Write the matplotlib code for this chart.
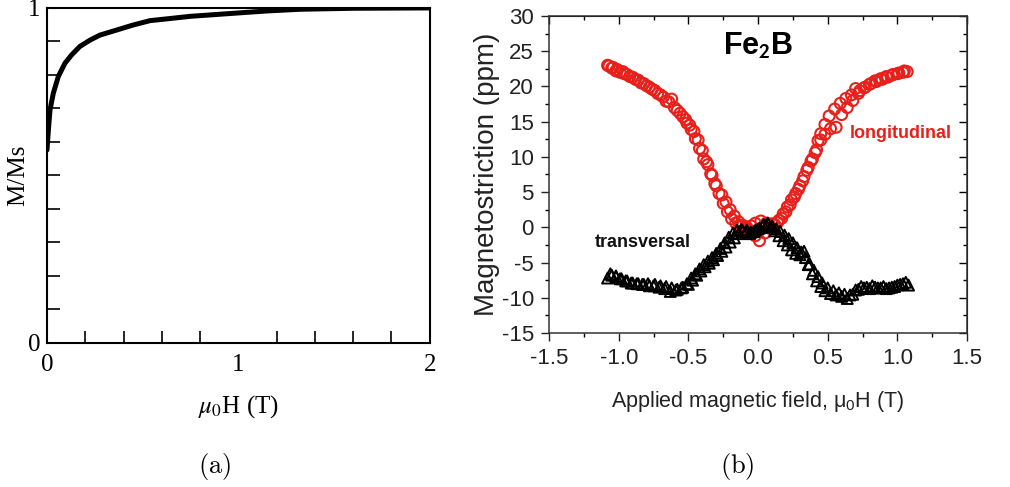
import matplotlib
matplotlib.use("Agg")
import matplotlib.pyplot as plt
from matplotlib.ticker import MultipleLocator, FixedLocator, NullFormatter, FormatStrFormatter

plt.rcParams["axes.unicode_minus"] = False

# (a) magnetisation curve
field_a = [0.0, 0.008, 0.016, 0.033, 0.059, 0.094, 0.129, 0.172, 0.225, 0.277,
           0.364, 0.45, 0.538, 0.75, 0.973, 1.15, 1.32, 1.6, 2.0]
m_ms = [0.576, 0.64, 0.696, 0.745, 0.795, 0.835, 0.860, 0.885, 0.904, 0.919,
        0.934, 0.949, 0.962, 0.975, 0.984, 0.991, 0.996, 0.999, 1.0]

# (b) Fe2B magnetostriction, two field sweeps each
lon_x = [-1.08, -1.05, -1.02, -0.99, -0.96, -0.92, -0.88, -0.84, -0.80, -0.76,
         -0.72, -0.68, -0.64, -0.60, -0.56, -0.52, -0.49, -0.46, -0.43, -0.40,
         -0.37, -0.34, -0.31, -0.28, -0.25, -0.22, -0.19, -0.16, -0.13, -0.10,
         -0.06, -0.02, 0.01, 0.05, 0.09, 0.12, 0.15, 0.18, 0.21, 0.24,
         0.27, 0.30, 0.33, 0.36, 0.39, 0.42, 0.45, 0.48, 0.52, 0.56,
         0.60, 0.64, 0.68, 0.72, 0.76, 0.80, 0.84, 0.88, 0.92, 0.96,
         1.00, 1.04, 1.07,
         1.05, 1.01, 0.97, 0.93, 0.89, 0.85, 0.81, 0.77, 0.73, 0.70,
         0.67, 0.63, 0.59, 0.55, 0.51, 0.48, 0.45, 0.43, 0.41, 0.38,
         0.35, 0.32, 0.29, 0.26, 0.23, 0.20, 0.17, 0.14, 0.10, 0.06,
         0.02, -0.02, -0.05, -0.08, -0.11, -0.14, -0.17, -0.20, -0.23, -0.26,
         -0.30, -0.33, -0.36, -0.39, -0.42, -0.45, -0.48, -0.51, -0.54, -0.58,
         -0.62, -0.66, -0.70, -0.74, -0.78, -0.82, -0.86, -0.90, -0.94, -0.97,
         -1.01, -1.04, -1.07]
lon_y = [23.0, 22.6, 22.2, 22.0, 21.8, 21.4, 21.0, 20.5, 20.1, 19.6,
         19.0, 18.5, 17.8, 17.0, 16.2, 15.3, 14.5, 13.6, 12.4, 10.9,
         9.3, 7.6, 6.2, 4.8, 3.4, 2.2, 1.2, 0.6, 0.1, -0.3,
         -0.6, -1.2, -1.9, -0.8, -0.2, 0.4, 1.0, 1.9, 2.9, 3.9,
         4.8, 5.9, 7.2, 8.5, 9.7, 11.0, 12.4, 13.2, 14.0, 14.2,
         16.0, 17.0, 18.0, 19.0, 19.8, 20.3, 20.8, 21.1, 21.4, 21.6,
         21.8, 22.0, 22.1,
         22.2, 21.9, 21.7, 21.3, 21.0, 20.7, 20.4, 19.9, 19.4, 19.7,
         18.8, 18.3, 17.6, 16.8, 15.8, 14.6, 13.3, 12.3, 10.6, 9.4,
         8.1, 6.6, 5.4, 4.3, 3.2, 2.2, 1.3, 0.7, 0.5, 0.6,
         0.9, 0.6, 0.2, 0.0, 0.3, 0.8, 1.6, 2.5, 3.6, 4.6,
         5.9, 7.4, 8.9, 9.7, 11.2, 12.6, 13.9, 14.8, 15.7, 16.6,
         18.2, 17.9, 18.8, 19.4, 19.9, 20.4, 20.9, 21.3, 21.7, 22.1,
         22.4, 22.7, 22.9]

tra_x = [-1.08, -1.05, -1.02, -0.99, -0.95, -0.91, -0.87, -0.83, -0.79, -0.75,
         -0.71, -0.67, -0.63, -0.59, -0.55, -0.51, -0.48, -0.45, -0.42, -0.39,
         -0.36, -0.33, -0.30, -0.27, -0.24, -0.21, -0.18, -0.15, -0.12, -0.09,
         -0.06, -0.03, 0.00, 0.03, 0.06, 0.09, 0.12, 0.15, 0.18, 0.21,
         0.24, 0.27, 0.30, 0.33, 0.36, 0.39, 0.42, 0.45, 0.48, 0.52,
         0.56, 0.60, 0.64, 0.68, 0.72, 0.76, 0.80, 0.84, 0.88, 0.92,
         0.96, 1.00, 1.04, 1.08,
         1.06, 1.02, 0.98, 0.94, 0.90, 0.86, 0.82, 0.78, 0.74, 0.70,
         0.66, 0.62, 0.58, 0.54, 0.50, 0.46, 0.43, 0.40, 0.37, 0.34,
         0.31, 0.28, 0.25, 0.22, 0.19, 0.16, 0.13, 0.10, 0.07, 0.04,
         0.01, -0.02, -0.05, -0.08, -0.11, -0.14, -0.17, -0.20, -0.23, -0.26,
         -0.29, -0.32, -0.35, -0.38, -0.41, -0.44, -0.47, -0.50, -0.54, -0.58,
         -0.62, -0.66, -0.70, -0.74, -0.78, -0.82, -0.86, -0.90, -0.94, -0.98,
         -1.02, -1.06]
tra_y = [-7.2, -6.8, -6.9, -7.3, -7.6, -7.9, -8.0, -8.1, -8.0, -8.3,
         -8.5, -8.7, -9.1, -8.9, -8.6, -8.0, -7.2, -6.6, -5.9, -5.3,
         -4.8, -4.3, -3.7, -3.0, -2.2, -1.4, -0.8, -0.4, -0.3, -0.7,
         -0.9, -0.6, -0.2, 0.1, 0.3, 0.0, -0.5, -1.2, -1.9, -2.5,
         -3.2, -3.7, -3.9, -3.4, -5.3, -6.6, -7.6, -8.4, -9.0, -9.4,
         -9.6, -9.8, -10.1, -9.5, -8.8, -8.6, -8.7, -8.5, -8.6, -8.7,
         -8.5, -8.2, -8.0, -8.2,
         -7.8, -8.1, -8.4, -8.6, -8.4, -8.6, -8.3, -8.5, -8.4, -8.9,
         -9.6, -9.5, -9.3, -9.0, -8.6, -7.9, -7.0, -6.1, -5.2, -4.3,
         -3.5, -2.9, -2.2, -1.6, -1.1, -0.6, -0.2, 0.2, 0.6, 0.4,
         -0.1, -0.4, -0.7, -0.4, -0.5, -0.9, -1.5, -2.1, -2.8, -3.4,
         -4.0, -4.6, -5.1, -5.6, -6.2, -6.8, -7.5, -8.1, -8.5, -8.8,
         -8.6, -8.4, -8.3, -8.1, -8.3, -8.1, -8.0, -7.9, -7.6, -7.3,
         -7.0, -6.6]

serif = "Liberation Serif"
sans = "Liberation Sans"

fig = plt.figure(figsize=(10.1, 4.87), dpi=100)

# ---- panel (a)
ax1 = fig.add_axes([0.0465, 0.2957, 0.379, 0.688])
ax1.plot(field_a, m_ms, color="black", lw=3.6, solid_capstyle="round")
ax1.set_xlim(0, 2)
ax1.set_ylim(0, 1)
ax1.xaxis.set_major_locator(FixedLocator([0, 1, 2]))
ax1.xaxis.set_minor_locator(MultipleLocator(0.2))
ax1.yaxis.set_major_locator(FixedLocator([0, 1]))
ax1.yaxis.set_minor_locator(MultipleLocator(0.1))
ax1.tick_params(which="both", direction="in", length=9, width=1.2,
                labelsize=18, top=False, right=False)
ax1.tick_params(axis="x", which="major", length=0, pad=8)
ax1.tick_params(axis="y", which="major", length=0, pad=5)
for lab in ax1.get_xticklabels() + ax1.get_yticklabels():
    lab.set_family(serif)
for s in ax1.spines.values():
    s.set_linewidth(1.5)
ax1.set_ylabel("M/Ms", family=serif, fontsize=18, va="center")
ax1.yaxis.set_label_coords(-0.075, 0.5)
ax1.set_xlabel(r"$\mu_0$H (T)", family=serif, fontsize=18,
               math_fontfamily="stix", labelpad=12)

# ---- panel (b)
ax2 = fig.add_axes([0.5436, 0.3162, 0.4139, 0.651])
ax2.scatter(lon_x, lon_y, s=62, facecolors="none", edgecolors="#e8201c",
            linewidths=1.5, zorder=3)
ax2.scatter(tra_x, tra_y, s=62, marker="^", facecolors="none",
            edgecolors="black", linewidths=1.4, zorder=4)
ax2.set_xlim(-1.5, 1.5)
ax2.set_ylim(-15, 30)
ax2.xaxis.set_major_locator(MultipleLocator(0.5))
ax2.xaxis.set_minor_locator(MultipleLocator(0.25))
ax2.yaxis.set_major_locator(MultipleLocator(5))
ax2.yaxis.set_minor_locator(MultipleLocator(2.5))
ax2.xaxis.set_major_formatter(FormatStrFormatter("%.1f"))
ax2.tick_params(which="major", direction="out", length=6, width=1,
                labelsize=16, colors="#222222", pad=5)
ax2.tick_params(which="minor", direction="out", length=3, width=1)
for lab in ax2.get_xticklabels() + ax2.get_yticklabels():
    lab.set_family(sans)
for s in ax2.spines.values():
    s.set_linewidth(1.1)
    s.set_color("#333333")

top = ax2.secondary_xaxis("top")
right = ax2.secondary_yaxis("right")
for sec, loc_maj, loc_min in [(top, 0.5, 0.25), (right, 5, 2.5)]:
    axis = sec.xaxis if sec is top else sec.yaxis
    axis.set_major_locator(MultipleLocator(loc_maj))
    axis.set_minor_locator(MultipleLocator(loc_min))
    axis.set_major_formatter(NullFormatter())
    sec.tick_params(which="major", direction="in", length=6, width=1)
    sec.tick_params(which="minor", direction="in", length=3, width=1)

ax2.set_ylabel("Magnetostriction (ppm)", family=sans, fontsize=20,
               color="#222222", va="center")
ax2.yaxis.set_label_coords(-0.148, 0.5)
ax2.set_xlabel(r"Applied magnetic field, $\mathregular{\mu_0}$H (T)",
               family=sans, fontsize=15.5, color="#222222",
               math_fontfamily="stixsans", labelpad=14)

ax2.text(0.0, 25.6, r"Fe$_\mathbf{2}$B", family=sans, fontsize=22,
         fontweight="bold", math_fontfamily="stixsans",
         ha="center", va="center")
ax2.text(0.66, 13.3, "longitudinal", family=sans, fontsize=13,
         fontweight="bold", color="#e8201c", ha="left", va="center")
ax2.text(-1.17, -2.1, "transversal", family=sans, fontsize=13,
         fontweight="bold", color="#111111", ha="left", va="center")

# captions
fig.text(215 / 1010, 1 - 466 / 487, r"$\mathrm{(a)}$", fontsize=19,
         math_fontfamily="cm", ha="center", va="center")
fig.text(737 / 1010, 1 - 466 / 487, r"$\mathrm{(b)}$", fontsize=19,
         math_fontfamily="cm", ha="center", va="center")

fig.savefig("out.png", dpi=100)
